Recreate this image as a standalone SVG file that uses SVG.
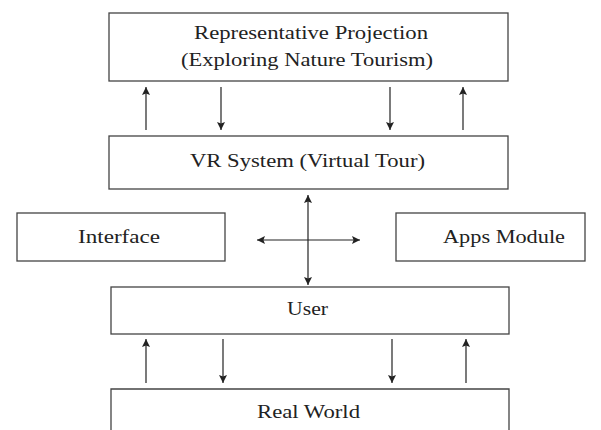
<svg xmlns="http://www.w3.org/2000/svg" width="601" height="430" viewBox="0 0 601 430">
<style>
.box{fill:#fff;stroke:#444;stroke-width:1.3}
.t{font-family:"Liberation Serif","Times New Roman",serif;font-size:19.5px;fill:#222;text-anchor:middle}
.c{stroke:#222;stroke-width:1.2;fill:none;marker-end:url(#ah)}
</style>
<defs>
<marker id="ah" viewBox="0 0 10 10" refX="10" refY="5" markerWidth="9" markerHeight="8" markerUnits="userSpaceOnUse" orient="auto">
<path d="M0,0 L10,5 L0,10 L2,5 Z" fill="#222"/>
</marker>
</defs>
<rect width="601" height="430" fill="#fff"/>
<g id="projection"><rect class="box" x="109" y="13" width="399" height="68"/>
<text class="t" x="311" y="39" textLength="234" lengthAdjust="spacingAndGlyphs">Representative Projection</text>
<text class="t" x="307" y="66" textLength="252" lengthAdjust="spacingAndGlyphs">(Exploring Nature Tourism)</text></g>
<g id="vr"><rect class="box" x="109" y="136" width="399" height="53"/>
<text class="t" x="307.5" y="167" textLength="235" lengthAdjust="spacingAndGlyphs">VR System (Virtual Tour)</text></g>
<g id="interface"><rect class="box" x="17" y="213" width="208" height="48"/>
<text class="t" x="119" y="243" textLength="82" lengthAdjust="spacingAndGlyphs">Interface</text></g>
<g id="apps"><rect class="box" x="396" y="213" width="189" height="48"/>
<text class="t" x="504" y="243" textLength="122" lengthAdjust="spacingAndGlyphs">Apps Module</text></g>
<g id="user"><rect class="box" x="111" y="287" width="398" height="47"/>
<text class="t" x="307.5" y="315" textLength="41" lengthAdjust="spacingAndGlyphs">User</text></g>
<g id="real"><path class="box" d="M111,431 V389 H509 V431"/>
<text class="t" x="308.5" y="418" textLength="103" lengthAdjust="spacingAndGlyphs">Real World</text></g>
<g id="connectors">
<line class="c" x1="146" y1="130" x2="146" y2="87"/>
<line class="c" x1="221" y1="87" x2="221" y2="130"/>
<line class="c" x1="390" y1="87" x2="390" y2="130"/>
<line class="c" x1="463" y1="130" x2="463" y2="87"/>
<line class="c" x1="308" y1="240" x2="308" y2="195"/>
<line class="c" x1="308" y1="240" x2="308" y2="285"/>
<line class="c" x1="308" y1="240" x2="257" y2="240"/>
<line class="c" x1="308" y1="240" x2="360" y2="240"/>
<line class="c" x1="146" y1="383" x2="146" y2="339"/>
<line class="c" x1="223" y1="339" x2="223" y2="383"/>
<line class="c" x1="392" y1="339" x2="392" y2="383"/>
<line class="c" x1="466" y1="383" x2="466" y2="339"/>
</g>
</svg>
